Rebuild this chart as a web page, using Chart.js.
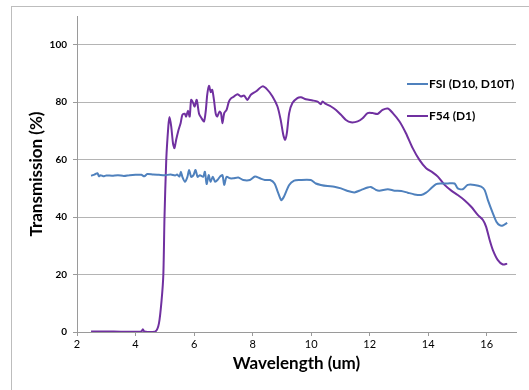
<!DOCTYPE html>
<html>
<head>
<meta charset="utf-8">
<script src="https://cdn.jsdelivr.net/npm/chart.js@4/dist/chart.umd.min.js"></script>
<style>
  html, body { margin: 0; padding: 0; background: #fff; }
  #wrap { position: relative; width: 529px; height: 390px; overflow: hidden; }
  #frame { position: absolute; left: 11px; top: 6px; width: 600px; height: 500px;
           border-left: 1px solid #bdbdbd; border-top: 1px solid #bdbdbd; }
  canvas { position: absolute; left: 0; top: 0; }
</style>
</head>
<body>
<div id="wrap">
  <div id="frame"></div>
  <canvas id="chart" width="529" height="390"></canvas>
</div>
<script>
// Wavelength (um) and transmission (%)
const fsiX = [2.48, 2.6, 2.7, 2.75, 2.8, 2.9, 3.0, 3.2, 3.4, 3.6, 3.8, 4.0, 4.2, 4.3, 4.4, 4.6, 4.8, 5.0, 5.2, 5.35, 5.42,
  5.5, 5.55, 5.6, 5.69, 5.77, 5.83, 5.9, 5.98, 6.05, 6.12, 6.2, 6.31, 6.37, 6.43, 6.5, 6.56, 6.64, 6.72, 6.8, 6.88,
  6.97, 7.03, 7.11, 7.23, 7.34, 7.51, 7.68, 7.91, 8.08, 8.25, 8.42, 8.6, 8.75, 8.86, 8.98, 9.07, 9.25, 9.42, 9.6,
  9.99, 10.16, 10.33, 10.56, 10.79, 11.02, 11.25, 11.48, 11.7, 11.93, 12.04, 12.21, 12.33, 12.62, 12.85, 13.08,
  13.3, 13.53, 13.76, 13.93, 14.1, 14.27, 14.44, 14.67, 14.9, 15.01, 15.18, 15.35, 15.58, 15.81, 15.93, 16.04,
  16.21, 16.33, 16.44, 16.55, 16.7];
const fsiY = [54.4, 54.8, 55.3, 54.2, 54.6, 54.2, 54.5, 54.4, 54.6, 54.3, 54.6, 54.7, 54.7, 54.2, 55.0, 54.8, 54.7, 54.6, 54.8, 54.5, 54.8,
  54.1, 55.8, 54.0, 52.3, 53.9, 56.4, 54.0, 54.6, 56.4, 54.0, 54.6, 54.0, 55.8, 51.5, 54.6, 52.3, 54.0, 52.3, 52.9, 54.0,
  54.6, 51.2, 54.0, 53.5, 53.5, 53.8, 52.9, 52.9, 54.1, 53.5, 52.9, 52.9, 51.7, 48.8, 45.9, 47.1, 51.2, 52.7, 52.9,
  52.9, 51.7, 51.2, 50.8, 50.6, 50.0, 49.1, 48.6, 49.4, 50.3, 50.5, 49.5, 49.2, 49.7, 49.2, 49.1,
  48.5, 47.9, 47.7, 48.5, 50.0, 51.5, 51.7, 51.7, 51.7, 50.0, 49.7, 51.2, 51.2, 50.6, 49.4, 45.9,
  41.3, 38.4, 37.2, 37.1, 38.0];

const f54X = [2.48, 3.0, 3.5, 4.0, 4.2, 4.25, 4.3, 4.68, 4.8, 4.89, 4.95, 4.99, 5.05, 5.12, 5.16, 5.22, 5.28, 5.33, 5.39, 5.46,
  5.54, 5.6, 5.68, 5.73, 5.79, 5.85, 5.9, 5.97, 6.02, 6.09, 6.17, 6.25, 6.34, 6.4, 6.45, 6.51, 6.57, 6.62, 6.68, 6.74,
  6.79, 6.87, 6.92, 6.97, 7.03, 7.11, 7.19, 7.27, 7.37, 7.48, 7.6, 7.71, 7.82, 7.94, 8.11, 8.34, 8.51, 8.68, 8.85,
  8.96, 9.05, 9.11, 9.17, 9.25, 9.36, 9.53, 9.65, 9.82, 10.05, 10.22, 10.33, 10.39, 10.5, 10.68, 10.85, 11.02,
  11.19, 11.36, 11.59, 11.76, 11.93, 12.1, 12.27, 12.44, 12.62, 12.79, 13.02, 13.24, 13.47, 13.7, 13.93, 14.16,
  14.33, 14.56, 14.79, 15.01, 15.24, 15.47, 15.7, 15.87, 15.98, 16.1, 16.21, 16.38, 16.55, 16.7];
const f54Y = [0.2, 0.2, 0.1, 0.1, 0.2, 1.0, 0.2, 0.2, 3.0, 11, 20, 40, 60, 71.5, 74.8, 71.5, 65.7, 64.0, 67.0, 70.0,
  72.7, 75.6, 76.0, 75.0, 77.0, 75.0, 80.8, 79.7, 78.5, 80.8, 76.0, 74.5, 73.3, 77.0, 82.6, 85.7, 83.5, 84.3, 80.8, 76.0,
  75.0, 76.7, 76.2, 72.7, 76.2, 77.3, 80.2, 81.4, 82.0, 82.8, 82.0, 82.3, 80.8, 82.6, 83.7, 85.5, 84.3, 82.0, 78.5,
  73.8, 68.6, 66.9, 69.2, 76.2, 79.7, 81.4, 81.7, 81.0, 80.6, 80.2, 79.3, 80.2, 79.4, 78.5, 77.3, 75.6,
  73.8, 73.0, 73.3, 74.4, 76.2, 76.2, 75.9, 77.3, 77.8, 76.2, 73.3, 69.2, 64.0, 59.9, 57.0, 55.5,
  54.1, 51.2, 49.2, 47.7, 45.9, 43.6, 40.7, 39.0, 36.6, 32.0, 28.5, 25.0, 23.5, 23.8];

const seriesNames = ['FSI (D10, D10T)', 'F54 (D1)'];
const seriesColors = ['#4f81bd', '#7030a0'];
const xTicks = [2, 4, 6, 8, 10, 12, 14, 16];
const yTicks = [0, 20, 40, 60, 80, 100];

const toPoints = (xs, ys) => xs.map((x, i) => ({ x: x, y: ys[i] }));

// legend drawn inside the plot, like the original
const insideLegend = {
    id: 'insideLegend',
    afterDraw(chart) {
        const ctx = chart.ctx;
        const rows = [84, 116];
        ctx.save();
        ctx.font = 'bold 12px Lato, "Liberation Sans", sans-serif';
        ctx.textBaseline = 'middle';
        chart.data.datasets.forEach((ds, i) => {
            ctx.strokeStyle = ds.borderColor;
            ctx.lineWidth = 2;
            ctx.beginPath();
            ctx.moveTo(407, rows[i]);
            ctx.lineTo(428, rows[i]);
            ctx.stroke();
            ctx.fillStyle = '#000';
            ctx.fillText(ds.label, 429, rows[i] + 0.5);
        });
        ctx.restore();
    }
};

const ctx = document.getElementById('chart').getContext('2d');
new Chart(ctx, {
    type: 'line',
    data: {
        datasets: [{
            label: seriesNames[0],
            data: toPoints(fsiX, fsiY),
            borderColor: seriesColors[0],
            borderWidth: 2,
            pointRadius: 0,
            tension: 0.25
        }, {
            label: seriesNames[1],
            data: toPoints(f54X, f54Y),
            borderColor: seriesColors[1],
            borderWidth: 2,
            pointRadius: 0,
            tension: 0.25
        }]
    },
    options: {
        responsive: false,
        animation: false,
        layout: { padding: { left: 26, right: 13, top: 16, bottom: 14 } },
        plugins: { legend: { display: false }, tooltip: { enabled: false } },
        scales: {
            x: {
                type: 'linear',
                min: 2,
                max: 17,
                afterBuildTicks: s => { s.ticks = xTicks.map(v => ({ value: v })); },
                afterFit: s => { s.height = 44; },
                grid: { drawOnChartArea: false, tickLength: 4, tickColor: '#9a9a9a' },
                border: { color: '#9a9a9a' },
                ticks: { color: '#000', font: { family: 'Lato, "Liberation Sans", sans-serif', size: 11 }, padding: 2, maxRotation: 0 },
                title: {
                    display: true,
                    text: 'Wavelength (um)',
                    color: '#000',
                    font: { family: 'Lato, "Liberation Sans", sans-serif', size: 17, weight: 'bold' },
                    padding: { top: 2, bottom: 2 }
                }
            },
            y: {
                min: 0,
                max: 110,
                afterBuildTicks: s => { s.ticks = yTicks.map(v => ({ value: v })); },
                afterFit: s => { s.width = 51; },
                grid: { color: '#b4b4b4', tickLength: 4, tickColor: '#9a9a9a' },
                border: { color: '#9a9a9a' },
                ticks: { color: '#000', font: { family: 'Lato, "Liberation Sans", sans-serif', size: 10, weight: 'bold' }, padding: 6 },
                title: {
                    display: true,
                    text: 'Transmission (%)',
                    color: '#000',
                    font: { family: 'Lato, "Liberation Sans", sans-serif', size: 17, weight: 'bold' },
                    padding: { top: 0, bottom: 4 }
                }
            }
        }
    },
    plugins: [insideLegend]
});
</script>
</body>
</html>
